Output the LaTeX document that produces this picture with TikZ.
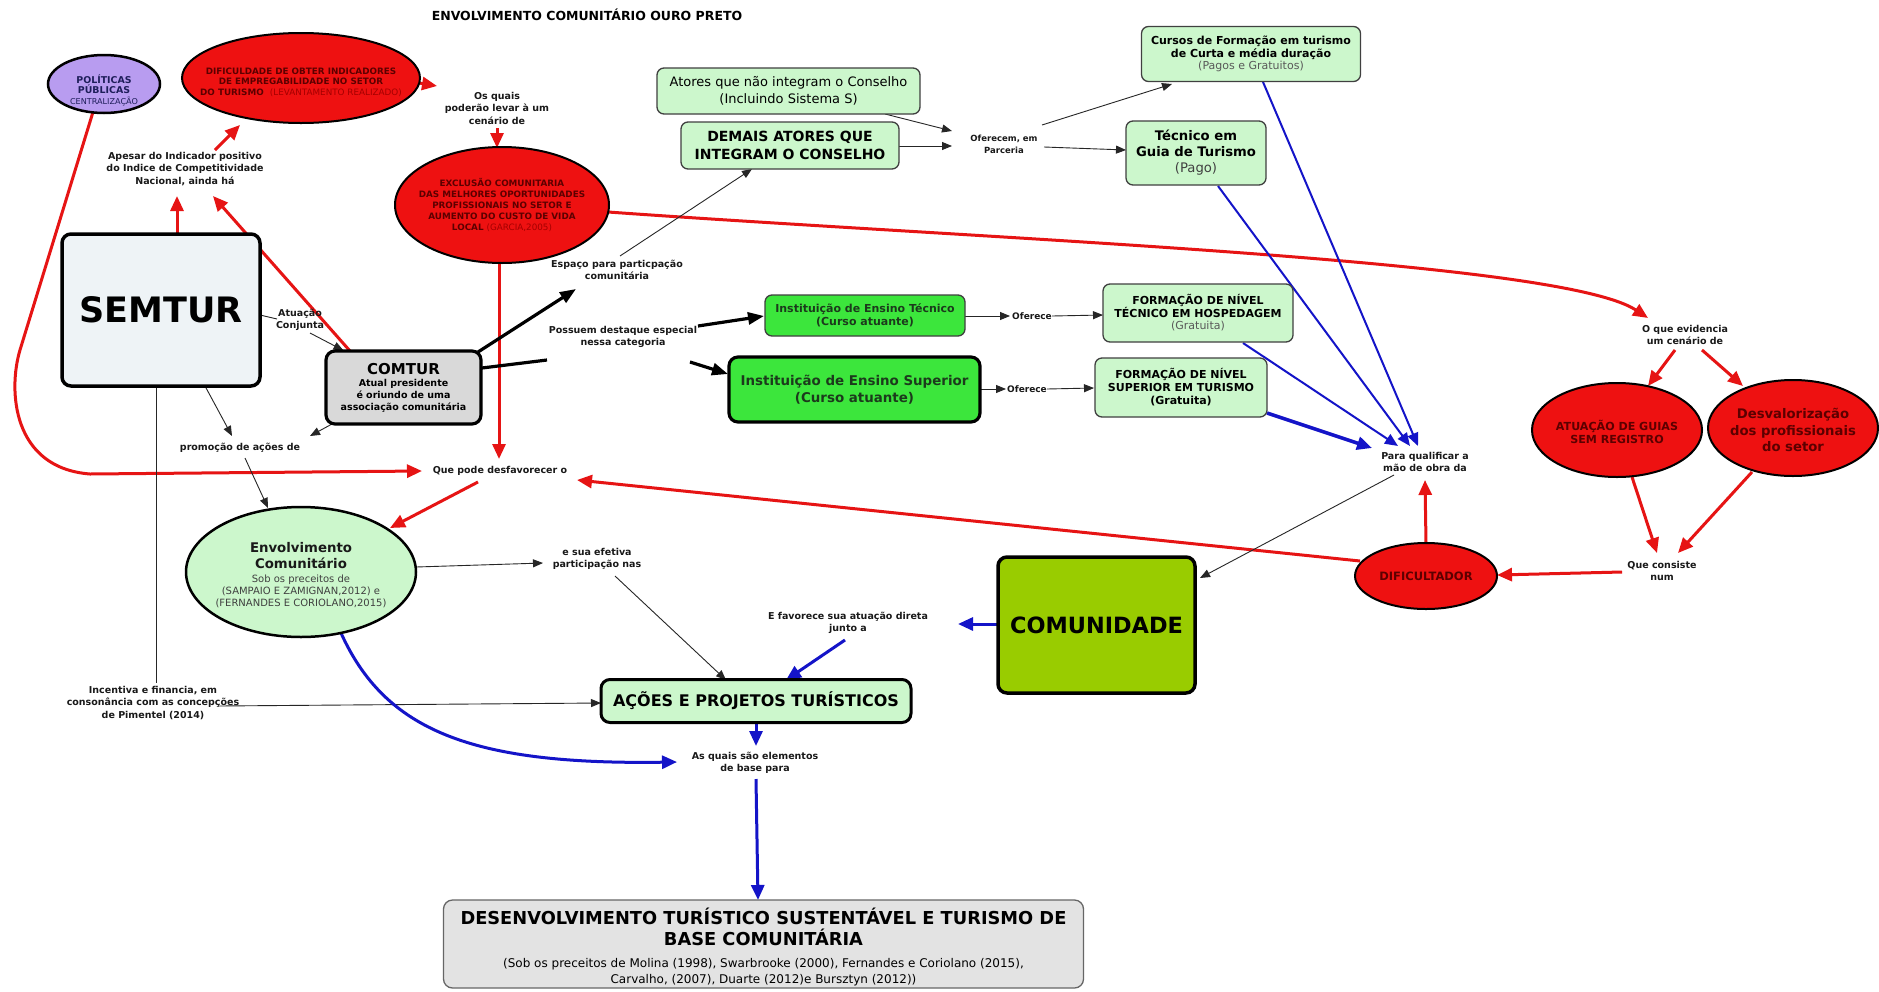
\documentclass[tikz,border=0pt]{standalone}
\usepackage{fontspec}
\setmainfont{DejaVu Sans}
\usetikzlibrary{shapes.geometric,arrows.meta,backgrounds}
\newcommand\fsz[2]{\fontsize{#1}{#2}\selectfont}
\definecolor{lgreen}{HTML}{CCF7CC}
\definecolor{bgreen}{HTML}{3CE63C}
\definecolor{tgreen}{HTML}{1C3A1C}
\definecolor{olivefill}{HTML}{99CC00}
\definecolor{redfill}{HTML}{EE1111}
\definecolor{redline}{HTML}{E61414}
\definecolor{darkred}{HTML}{5C0000}
\definecolor{citered}{HTML}{A30000}
\definecolor{blueline}{HTML}{1414C8}
\definecolor{lav}{HTML}{B89CF0}
\definecolor{navy}{HTML}{1E1E5A}
\definecolor{semfill}{HTML}{EEF3F6}
\definecolor{comfill}{HTML}{D9D9D9}
\definecolor{desfill}{HTML}{E3E3E3}
\begin{document}
\begin{tikzpicture}[x=1pt,y=-1pt,
  lbl/.style={font=\bfseries\fsz{9.5}{12.5}, align=center, inner sep=2pt, text=black!90},
  gbox/.style={draw=black!75, line width=1.3pt, rounded corners=7pt, fill=lgreen, align=center, inner sep=0pt},
  tbox/.style={draw=black, line width=3.5pt, rounded corners=9pt, align=center, inner sep=0pt},
  rell/.style={ellipse, draw=black, line width=2pt, fill=redfill, inner sep=0pt},
  etxt/.style={align=center, inner sep=0pt},
  redarr/.style={draw=redline, line width=3pt, -{Triangle[length=15pt,width=13pt]}},
  bluarr/.style={draw=blueline, line width=3pt, -{Triangle[length=15pt,width=13pt]}},
  bluthin/.style={draw=blueline, line width=2pt, -{Triangle[length=13pt,width=11pt]}},
  blkarr/.style={draw=black!85, line width=0.9pt, -{Triangle[length=10pt,width=8pt]}},
  blkline/.style={draw=black!85, line width=0.9pt},
  thkarr/.style={draw=black, line width=3.2pt, -{Triangle[length=16pt,width=12pt]}},
  thkline/.style={draw=black, line width=3.2pt}]
\useasboundingbox (0,0) rectangle (1879,991);

% ---------- title ----------
\node[font=\bfseries\fsz{12.5}{15}] (title) at (587,15) {ENVOLVIMENTO COMUNITÁRIO OURO PRETO};

% ---------- left column ----------
\node[ellipse, draw=black, line width=2.5pt, fill=lav, minimum width=112pt, minimum height=58pt, inner sep=0pt] (pol) at (104,84) {};
\node[etxt, text=navy, font=\bfseries\fsz{9.4}{10.5}] (poltxt) at (104,90) {POLÍTICAS\\ PÚBLICAS\\ \mdseries\fsz{8.1}{10.5}CENTRALIZAÇÃO};

\node[rell, minimum width=238pt, minimum height=90pt] (dif) at (301,78) {};
\node[etxt, text=darkred, font=\bfseries\fsz{8.8}{10.5}] (diftxt) at (301,82) {DIFICULDADE DE OBTER INDICADORES\\ DE EMPREGABILIDADE NO SETOR\\ DO TURISMO\ \ {\mdseries\color{citered}(LEVANTAMENTO REALIZADO)}};

\node[lbl] (osq) at (497,108) {Os quais\\ poderão levar à um\\ cenário de};

\node[rell, minimum width=214pt, minimum height=116pt] (exc) at (502,205) {};
\node[etxt, text=darkred, font=\bfseries\fsz{8.8}{11}] (exctxt) at (502,205) {EXCLUSÃO COMUNITARIA\\ DAS MELHORES OPORTUNIDADES\\ PROFISSIONAIS NO SETOR E\\ AUMENTO DO CUSTO DE VIDA\\ LOCAL {\mdseries\color{citered}(GARCIA,2005)}};

\node[lbl] (apesar) at (185,169) {Apesar do Indicador positivo\\ do Indice de Competitividade\\ Nacional, ainda há};

\node[tbox, fill=semfill, minimum width=198pt, minimum height=152pt, font=\bfseries\fsz{35}{40}] (semtur) at (161,310) {SEMTUR};
\node[lbl] (atuacao) at (300,320) {Atuação\\ Conjunta};
\node[tbox, fill=comfill, minimum width=155pt, minimum height=73pt, line width=3.2pt, font=\bfseries\fsz{9.5}{12}] (comtur) at (403.5,387.5) {\fsz{15}{16}COMTUR\\ Atual presidente\\ é oriundo de uma\\ associação comunitária};

\node[lbl] (promo) at (240,448) {promoção de ações de};
\node[lbl] (quepode) at (500,471) {Que pode desfavorecer o};

\node[ellipse, draw=black, line width=2.5pt, fill=lgreen, minimum width=230pt, minimum height=130pt, inner sep=0pt] (env) at (301,572) {};
\node[etxt, font=\fsz{10}{12}, text=black!75] (envtxt) at (301,575) {\bfseries\fsz{13.3}{16}\color{black!90}Envolvimento\\[4pt] \bfseries\fsz{13.3}{16}\color{black!90}Comunitário\\[1.5pt] Sob os preceitos de\\ (SAMPAIO E ZAMIGNAN,2012) e\\ (FERNANDES E CORIOLANO,2015)};

\node[lbl] (esua) at (597,559) {e sua efetiva\\ participação nas};
\node[lbl] (incent) at (153,703) {Incentiva e financia, em\\ consonância com as concepções\\ de Pimentel (2014)};

% ---------- bottom ----------
\node[tbox, fill=lgreen, line width=3pt, minimum width=310pt, minimum height=43pt, font=\bfseries\fsz{16}{19}] (acoes) at (756,701) {AÇÕES E PROJETOS TURÍSTICOS};
\node[lbl] (asquais) at (755,763) {As quais são elementos\\ de base para};
\node[draw=black!60, line width=1.3pt, rounded corners=9pt, fill=desfill, minimum width=640pt, minimum height=88pt, align=center, inner sep=0pt, font=\bfseries\fsz{17.8}{21.5}] (desen) at (763.5,944) {\rule{0pt}{22pt}DESENVOLVIMENTO TURÍSTICO SUSTENTÁVEL E TURISMO DE\\ BASE COMUNITÁRIA\\ \mdseries\fsz{12}{14}(Sob os preceitos de Molina (1998), Swarbrooke (2000), Fernandes e Coriolano (2015),\\[-5.5pt] \mdseries\fsz{12}{14}Carvalho, (2007), Duarte (2012)e Bursztyn (2012))};
\node[lbl] (efav) at (848,623) {E favorece sua atuação direta\\ junto a};
\node[tbox, fill=olivefill, minimum width=197pt, minimum height=136pt, font=\bfseries\fsz{22.4}{26}] (comun) at (1096.5,625) {COMUNIDADE};

% ---------- middle ----------
\node[lbl] (espaco) at (617,270) {Espaço para particpação\\ comunitária};
\node[lbl] (possuem) at (623,337) {Possuem destaque especial\\ nessa categoria};

\node[gbox, minimum width=263pt, minimum height=46pt, font=\fsz{13}{17}] (atores) at (788.5,91) {Atores que não integram o Conselho\\ (Incluindo Sistema S)};
\node[gbox, minimum width=218pt, minimum height=47pt, font=\bfseries\fsz{14}{18}] (demais) at (790,145.5) {DEMAIS ATORES QUE\\ INTEGRAM O CONSELHO};
\node[lbl, font=\bfseries\fsz{8.5}{12}] (oferecem) at (1004,144) {Oferecem, em\\ Parceria};
\node[gbox, minimum width=219pt, minimum height=55pt, font=\bfseries\fsz{11}{12.5}] (cursos) at (1251,54) {Cursos de Formação em turismo\\ de Curta e média duração\\ \mdseries\color{black!65}(Pagos e Gratuitos)};
\node[gbox, minimum width=140pt, minimum height=64pt, font=\bfseries\fsz{13.2}{16}] (tecguia) at (1196,153) {Técnico em\\ Guia de Turismo\\ \mdseries\color{black!75}(Pago)};

\node[gbox, fill=bgreen, text=tgreen, minimum width=200pt, minimum height=41pt, font=\bfseries\fsz{11}{13}] (insttec) at (865,315.5) {Instituição de Ensino Técnico\\ (Curso atuante)};
\node[tbox, fill=bgreen, text=tgreen, line width=3.2pt, minimum width=251pt, minimum height=65pt, font=\bfseries\fsz{13.4}{17}] (instsup) at (854.5,389.5) {Instituição de Ensino Superior\\ (Curso atuante)};
\node[lbl, font=\bfseries\fsz{9}{11}] (of1) at (1032,316) {Oferece};
\node[lbl, font=\bfseries\fsz{9}{11}] (of2) at (1027,389) {Oferece};
\node[gbox, minimum width=190pt, minimum height=58pt, font=\bfseries\fsz{11}{12.5}] (formtec) at (1198,313) {FORMAÇÃO DE NÍVEL\\ TÉCNICO EM HOSPEDAGEM\\ \mdseries\color{black!65}(Gratuita)};
\node[gbox, minimum width=172pt, minimum height=59pt, font=\bfseries\fsz{11}{13}] (formsup) at (1181,387.5) {FORMAÇÃO DE NÍVEL\\ SUPERIOR EM TURISMO\\ (Gratuita)};

% ---------- right ----------
\node[lbl] (paraq) at (1425,462) {Para qualificar a\\ mão de obra da};
\node[lbl] (oque) at (1685,335) {O que evidencia\\ um cenário de};
\node[rell, minimum width=170pt, minimum height=94pt] (atu) at (1617,430) {};
\node[etxt, text=darkred, font=\bfseries\fsz{11.1}{12.5}] (atutxt) at (1617,432) {ATUAÇÃO DE GUIAS\\ SEM REGISTRO};
\node[rell, minimum width=170pt, minimum height=96pt] (desv) at (1793,428) {};
\node[etxt, text=darkred, font=\bfseries\fsz{13.2}{16.5}] (desvtxt) at (1793,430) {Desvalorização\\ dos profissionais\\ do setor};
\node[lbl] (quecons) at (1662,571) {Que consiste\\ num};
\node[rell, minimum width=142pt, minimum height=66pt] (dific) at (1426,576) {};
\node[etxt, text=darkred, font=\bfseries\fsz{11.5}{13}] (dificbl) at (1426,576) {DIFICULTADOR};

% ---------- connectors ----------
\begin{scope}[on background layer]
\fill[white] (0,0) rectangle (1879,991);

% red
\draw[redarr] ([shift={(16,-76)}]semtur.center) -- ([shift={(-8,27)}]apesar.center);
\draw[redarr] ([shift={(-53.5,-36.5)}]comtur.center) -- ([shift={(28,27)}]apesar.center);
\draw[redarr] ([shift={(30,-19)}]apesar.center) -- ([shift={(-61,47)}]dif.center);
\draw[redarr] ([shift={(118,5)}]dif.center) -- ([shift={(-60,-22)}]osq.center);
\draw[redarr] ([shift={(0,20)}]osq.center) -- ([shift={(-5,-57)}]exc.center);
\draw[redarr] ([shift={(-3,57)}]exc.center) -- ([shift={(-1,-12)}]quepode.center);
\draw[redarr] ([shift={(-11,28)}]pol.center) -- (20,350) .. controls (8,390) and (12,468) .. (90,474) -- ([shift={(-78,0)}]quepode.center);
\draw[redarr] ([shift={(-22,11)}]quepode.center) -- ([shift={(89,-44)}]env.center);
\draw[redarr] ([shift={(-66,-15)}]dific.center) -- ([shift={(77,9)}]quepode.center);
\draw[redarr] ([shift={(106,7)}]exc.center) .. controls (1000,240) and (1560,260) .. ([shift={(-37,-17)}]oque.center);
\draw[redarr] ([shift={(-10,15)}]oque.center) -- ([shift={(31,-44)}]atu.center);
\draw[redarr] ([shift={(17,15)}]oque.center) -- ([shift={(-50,-42)}]desv.center);
\draw[redarr] ([shift={(15,47)}]atu.center) -- ([shift={(-5,-18)}]quecons.center);
\draw[redarr] ([shift={(-41,44)}]desv.center) -- ([shift={(16,-18)}]quecons.center);
\draw[redarr] ([shift={(-40,1)}]quecons.center) -- ([shift={(71,-1)}]dific.center);
\draw[redarr] ([shift={(0,-33)}]dific.center) -- ([shift={(0,18)}]paraq.center);

% thin black
\draw[blkline] ([shift={(99,5)}]semtur.center) -- ([shift={(-23,-1)}]atuacao.center);
\draw[blkarr] ([shift={(10,13)}]atuacao.center) -- ([shift={(-60,-37)}]comtur.center);
\draw[blkarr] ([shift={(44,76)}]semtur.center) -- ([shift={(-8,-12)}]promo.center);
\draw[blkarr] ([shift={(-71.5,36.5)}]comtur.center) -- ([shift={(70,-12)}]promo.center);
\draw[blkarr] ([shift={(5,10)}]promo.center) -- ([shift={(-33,-64)}]env.center);
\draw[blkarr] ([shift={(115,-5)}]env.center) -- ([shift={(-54,4)}]esua.center);
\draw[blkarr] ([shift={(18,17)}]esua.center) -- ([shift={(-30,-21)}]acoes.center);
\draw[blkline] ([shift={(-5,76)}]semtur.center) -- ([shift={(3,-20)}]incent.center);
\draw[blkarr] ([shift={(65,3)}]incent.center) -- ([shift={(-155,2)}]acoes.center);
\draw[blkarr] ([shift={(3,-14)}]espaco.center) -- ([shift={(-38,23.5)}]demais.center);
\draw[blkarr] ([shift={(96.5,23)}]atores.center) -- ([shift={(-52,-13)}]oferecem.center);
\draw[blkarr] ([shift={(109,0.5)}]demais.center) -- ([shift={(-52,2)}]oferecem.center);
\draw[blkarr] ([shift={(38,-19)}]oferecem.center) -- ([shift={(-79,30)}]cursos.center);
\draw[blkarr] ([shift={(40,3)}]oferecem.center) -- ([shift={(-70,-3)}]tecguia.center);
\draw[blkarr] ([shift={(100,0.5)}]insttec.center) -- ([shift={(-22,0)}]of1.center);
\draw[blkarr] ([shift={(20,0)}]of1.center) -- ([shift={(-95,2)}]formtec.center);
\draw[blkarr] ([shift={(125.5,-0.5)}]instsup.center) -- ([shift={(-21,0)}]of2.center);
\draw[blkarr] ([shift={(20,0)}]of2.center) -- ([shift={(-87,0.5)}]formsup.center);
\draw[blkarr] ([shift={(-31,13)}]paraq.center) -- ([shift={(103.5,-47)}]comun.center);

% thick black
\draw[thkarr] ([shift={(74.5,-35.5)}]comtur.center) -- ([shift={(-41,19)}]espaco.center);
\draw[thkline] ([shift={(78.5,-19.5)}]comtur.center) -- ([shift={(-76,23)}]possuem.center);
\draw[thkarr] ([shift={(75,-11)}]possuem.center) -- ([shift={(-101,0.5)}]insttec.center);
\draw[thkarr] ([shift={(67,25)}]possuem.center) -- ([shift={(-126.5,-15.5)}]instsup.center);

% blue
\draw[bluthin] ([shift={(12,28)}]cursos.center) -- ([shift={(-7,-16)}]paraq.center);
\draw[bluthin] ([shift={(22,33)}]tecguia.center) -- ([shift={(-15,-16)}]paraq.center);
\draw[bluthin] ([shift={(45,30)}]formtec.center) -- ([shift={(-27,-16)}]paraq.center);
\draw[bluarr, line width=3.5pt] ([shift={(86,25.5)}]formsup.center) -- ([shift={(-53,-14)}]paraq.center);
\draw[bluarr] ([shift={(-98.5,-1)}]comun.center) -- ([shift={(110,1)}]efav.center);
\draw[bluarr] ([shift={(-3,17)}]efav.center) -- ([shift={(30,-21)}]acoes.center);
\draw[bluarr] ([shift={(0,21)}]acoes.center) -- ([shift={(1,-17)}]asquais.center);
\draw[bluarr] ([shift={(1,16)}]asquais.center) -- ([shift={(-5.5,-44)}]desen.center);
\draw[bluarr] ([shift={(40,61)}]env.center) .. controls (385,730) and (470,765) .. ([shift={(-78,-1)}]asquais.center);
\end{scope}
\end{tikzpicture}
\end{document}
